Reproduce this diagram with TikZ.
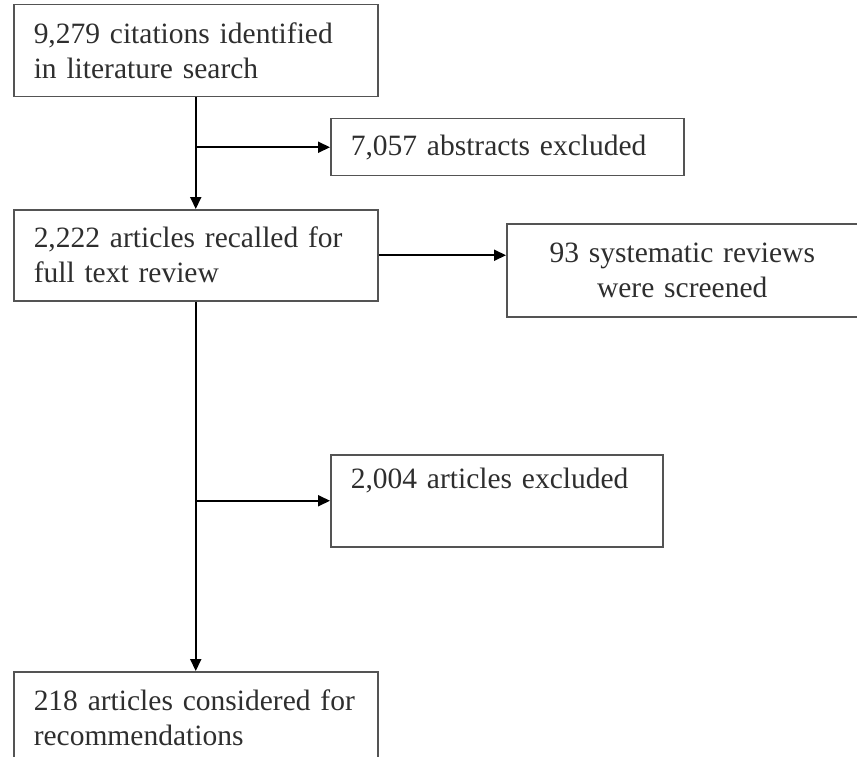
\documentclass[tikz,border=0pt]{standalone}
\usepackage{fontspec}
\setmainfont{Liberation Serif}
\usetikzlibrary{arrows.meta,calc}
\definecolor{BoxClr}{rgb}{0.33,0.33,0.33}
\definecolor{TextClr}{rgb}{0.18,0.18,0.18}

\begin{document}
\begin{tikzpicture}[x=1pt,y=-1pt,
  box/.style={draw=BoxClr,line width=1.5pt,text=TextClr,anchor=north west,
    inner xsep=20pt,inner ysep=0pt,font=\fontsize{29.5}{35}\selectfont,align=left},
  link/.style={line width=2pt,-{Triangle[length=12pt,width=11pt]}}]
\useasboundingbox (0,0) rectangle (857,757);

\node[box,text width=324pt,minimum height=92pt] (cite) at (13,4)
  {9,279 citations identified\\in literature search};
\node[box,text width=313pt,minimum height=57pt] (abst) at (330,118)
  {7,057 abstracts excluded};
\node[box,text width=324pt,minimum height=91pt] (recall) at (13,209)
  {2,222 articles recalled for\\full text review};
\node[box,text width=311pt,minimum height=93pt,align=center] (sysrev) at (506,223)
  {93 systematic reviews\\were screened};
\node[box,text width=292pt,minimum height=92pt] (excl) at (330,454)
  {2,004 articles excluded\\\strut};
\node[box,text width=324pt,minimum height=92pt] (consid) at (13,671)
  {218 articles considered for\\recommendations};

\draw[link] (cite) -- (recall);
\draw[link] (cite.south |- abst.west) -- (abst.west);
\draw[link] (recall.east) -- (recall.east -| sysrev.west);
\draw[link] (recall) -- (consid);
\draw[link] (recall.south |- excl.west) -- (excl.west);

\end{tikzpicture}
\end{document}
